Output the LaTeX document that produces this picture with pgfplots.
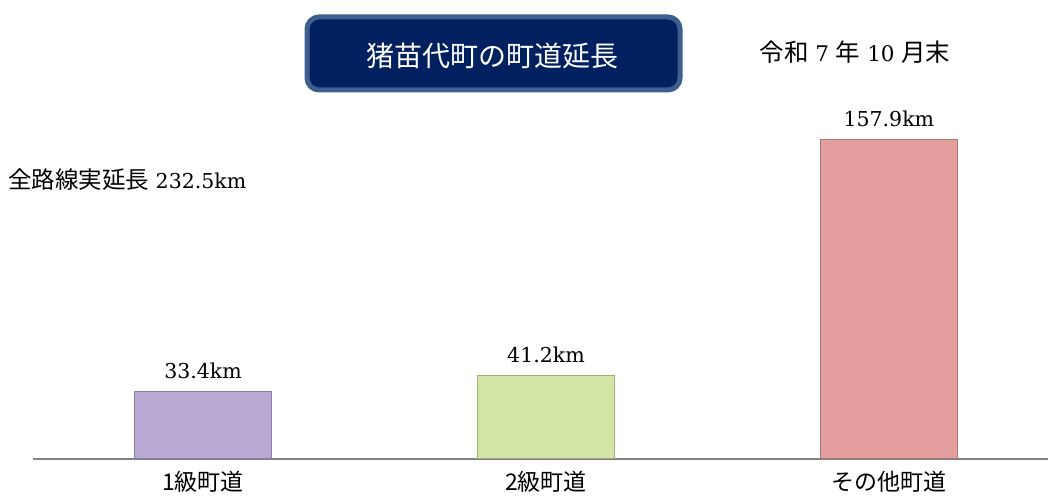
\documentclass[border=0pt]{standalone}
\usepackage{pgfplots}
\pgfplotsset{compat=1.18}
\usepackage{fontspec}
\setmainfont{DejaVu Serif}
\newfontfamily\cjk{Noto Sans CJK JP}
\definecolor{barpurple}{RGB}{184,168,212}
\definecolor{bargreen}{RGB}{212,230,165}
\definecolor{barpink}{RGB}{229,158,158}
\definecolor{titlefill}{RGB}{0,32,96}
\definecolor{titleedge}{RGB}{62,94,142}

\begin{document}
\begin{tikzpicture}[x=1pt,y=1pt]
  \useasboundingbox (0,0) rectangle (1048,502);
  \begin{axis}[
      at={(33pt,43pt)}, anchor=south west,
      scale only axis, width=1015pt, height=459pt,
      xmin=-0.496, xmax=2.464, ymin=0, ymax=227.2,
      clip=false,
      ybar, bar width=137pt, bar shift=0pt,
      axis x line=bottom, hide y axis,
      axis line style={-, draw=gray, line width=2pt},
      xtick={0,1,2}, xtick style={draw=none},
      xticklabels={{\cjk 1級町道}, {\cjk 2級町道}, {\cjk その他町道}},
      xticklabel style={font=\fontsize{23}{26}\selectfont, yshift=-7pt},
      /pgf/number format/assume math mode=true,
      point meta=y,
      nodes near coords={\pgfmathprintnumber[fixed,fixed zerofill,precision=1]{\pgfplotspointmeta}km},
      every node near coord/.append style={font=\fontsize{20.5}{24}\selectfont, yshift=9pt, black},
    ]
    \addplot[fill=barpurple, draw=barpurple!75!black, line width=1pt] coordinates {(0,33.4)};
    \addplot[fill=bargreen, draw=bargreen!75!black, line width=1pt] coordinates {(1,41.2)};
    \addplot[fill=barpink, draw=barpink!75!black, line width=1pt] coordinates {(2,157.9)};
  \end{axis}
  \draw[titleedge, line width=5pt, fill=titlefill, rounded corners=12pt] (307,412) rectangle (680,485);
  \node[white, font=\cjk\fontsize{28}{32}\selectfont] at (492,446) {猪苗代町の町道延長};
  \node[font=\fontsize{21.5}{28}\selectfont] at (855,450) {{\cjk\fontsize{24.5}{28}\selectfont 令和} 7 {\cjk\fontsize{24.5}{28}\selectfont 年} 10 {\cjk\fontsize{24.5}{28}\selectfont 月末}};
  \node[anchor=west, inner sep=0pt, font=\fontsize{20.5}{28}\selectfont] at (8,322) {{\cjk\fontsize{23.5}{28}\selectfont 全路線実延長} 232.5km};
\end{tikzpicture}
\end{document}
